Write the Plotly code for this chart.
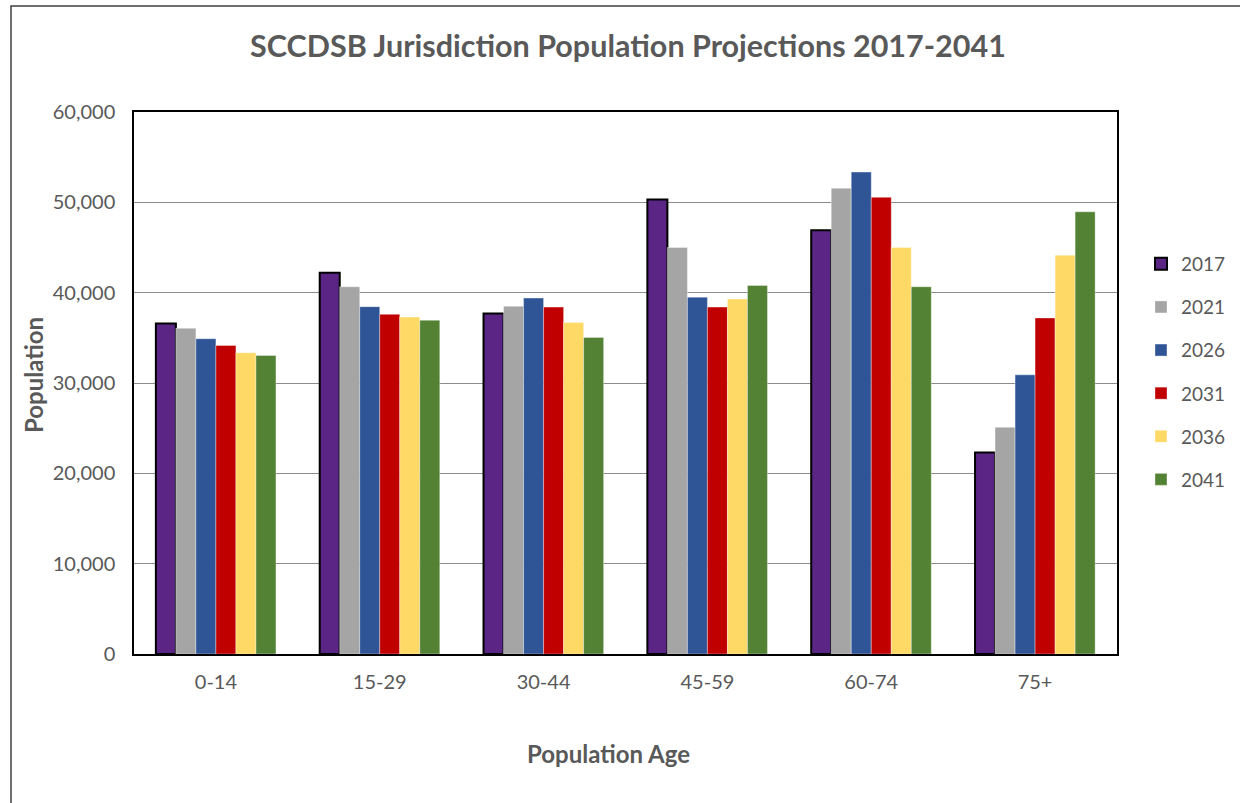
import plotly.graph_objects as go

categories = ["0-14", "15-29", "30-44", "45-59", "60-74", "75+"]
years = ["2017", "2021", "2026", "2031", "2036", "2041"]
pop_2017 = [36600, 42200, 37700, 50300, 46900, 22300]
pop_2021 = [36050, 40650, 38500, 45000, 51550, 25100]
pop_2026 = [34900, 38450, 39400, 39500, 53350, 30900]
pop_2031 = [34150, 37600, 38400, 38400, 50550, 37200]
pop_2036 = [33350, 37300, 36700, 39300, 45000, 44150]
pop_2041 = [33050, 36950, 35050, 40800, 40650, 48950]
series = [pop_2017, pop_2021, pop_2026, pop_2031, pop_2036, pop_2041]
colors = ["#5B2586", "#A5A5A5", "#2F5597", "#C00000", "#FFD966", "#548235"]
yticks = [0, 10000, 20000, 30000, 40000, 50000, 60000]
ytick_text = ["0", "10,000", "20,000", "30,000", "40,000", "50,000", "60,000"]

W, H = 1240, 803
ML, MR, MT, MB = 134, 123, 112, 149
PW, PH = W - ML - MR, H - MT - MB

FONT = "Lato"
GRAY = "#595959"

fig = go.Figure()
for i, (yr, vals, col) in enumerate(zip(years, series, colors)):
    if i == 0:
        line = dict(color="#000000", width=2)
    else:
        line = dict(color="rgba(255,255,255,0.6)", width=0.6)
    fig.add_trace(go.Bar(
        x=categories, y=vals, name=yr, marker=dict(color=col, line=line),
        legendgroup=yr,
    ))

fig.update_layout(
    width=W, height=H,
    margin=dict(l=ML, r=MR, t=MT, b=MB, autoexpand=False),
    paper_bgcolor="white", plot_bgcolor="white",
    barmode="group", bargap=0.267, bargroupgap=0,
    font=dict(family=FONT, color=GRAY, size=20),
    title=dict(text="<b>SCCDSB Jurisdiction Population Projections 2017-2041</b>",
               x=628 / W, xanchor="center", y=1 - 46 / H, yanchor="middle",
               xref="container", yref="container",
               font=dict(family=FONT, size=30.5, color=GRAY)),
    showlegend=True,
    legend=dict(x=(1141 - ML) / PW, xanchor="left", y=(654 - 245) / PH, yanchor="top",
                tracegroupgap=15.4, font=dict(size=19, color=GRAY),
                bgcolor="rgba(0,0,0,0)"),
    xaxis=dict(showline=True, linecolor="#000000", linewidth=1.5, mirror=True,
               ticks="", tickfont=dict(size=20, color=GRAY), showgrid=False,
               ticklabelstandoff=9),
    yaxis=dict(range=[0, 60000], tickvals=yticks, ticktext=ytick_text,
               showline=True, linecolor="#000000", linewidth=1.5, mirror=True,
               showgrid=True, gridcolor="#8C8C8C", gridwidth=1,
               ticks="", ticklen=0, tickfont=dict(size=20, color=GRAY),
               zeroline=False, ticklabelstandoff=13),
    annotations=[
        dict(text="<b>Population Age</b>", xref="paper", yref="paper",
             x=(608 - ML) / PW, y=(654 - 753) / PH, xanchor="center", yanchor="middle",
             showarrow=False, font=dict(size=24, color=GRAY, family=FONT)),
        dict(text="<b>Population</b>", xref="paper", yref="paper",
             x=(33 - ML) / PW, y=(654 - 375) / PH, xanchor="center", yanchor="middle",
             textangle=-90, showarrow=False, font=dict(size=24, color=GRAY, family=FONT)),
    ],
    shapes=[
        dict(type="rect", xref="paper", yref="paper",
             x0=(11 - ML) / PW, x1=(W + 10 - ML) / PW,
             y0=(654 - (H + 10)) / PH, y1=(654 - 6) / PH,
             line=dict(color="#404040", width=1.5), fillcolor="rgba(0,0,0,0)",
             layer="below"),
    ],
)

fig.write_html("out.html")
